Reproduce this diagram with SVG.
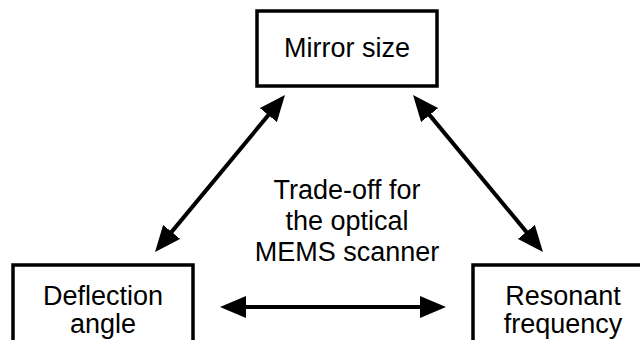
<svg xmlns="http://www.w3.org/2000/svg" width="640" height="340" viewBox="0 0 640 340">
<style>
.box{fill:#fff;stroke:#000;stroke-width:3.5}
.t{font-family:"Liberation Sans",Arial,sans-serif;font-size:27px;fill:#000;text-anchor:middle}
.c{stroke:#000;stroke-width:4;fill:none;marker-start:url(#ah);marker-end:url(#ah)}
</style>
<defs>
<marker id="ah" markerUnits="userSpaceOnUse" viewBox="0 0 26 22" refX="11" refY="11" markerWidth="26" markerHeight="22" orient="auto-start-reverse">
<path d="M0,0 L26,11 L0,22 z" fill="#000"/>
</marker>
</defs>
<rect width="640" height="340" fill="#fff"/>
<g id="connectors">
<line class="c" x1="275.4" y1="106.6" x2="164.6" y2="240.4"/>
<line class="c" x1="422.6" y1="106.6" x2="533.4" y2="240.4"/>
<line class="c" x1="235" y1="307" x2="431" y2="307"/>
</g>
<g id="mirror">
<rect class="box" x="257" y="11" width="180" height="75"/>
<text class="t" x="347" y="57">Mirror size</text>
</g>
<g id="deflection">
<rect class="box" x="13" y="265" width="180" height="80"/>
<text class="t" x="103" y="305">Deflection</text>
<text class="t" x="103" y="333">angle</text>
</g>
<g id="resonant">
<rect class="box" x="473" y="265" width="180" height="80"/>
<text class="t" x="563" y="305">Resonant</text>
<text class="t" x="563" y="333">frequency</text>
</g>
<g id="tradeoff">
<text class="t" x="347" y="199">Trade-off for</text>
<text class="t" x="347" y="230">the optical</text>
<text class="t" x="347" y="261">MEMS scanner</text>
</g>
</svg>
